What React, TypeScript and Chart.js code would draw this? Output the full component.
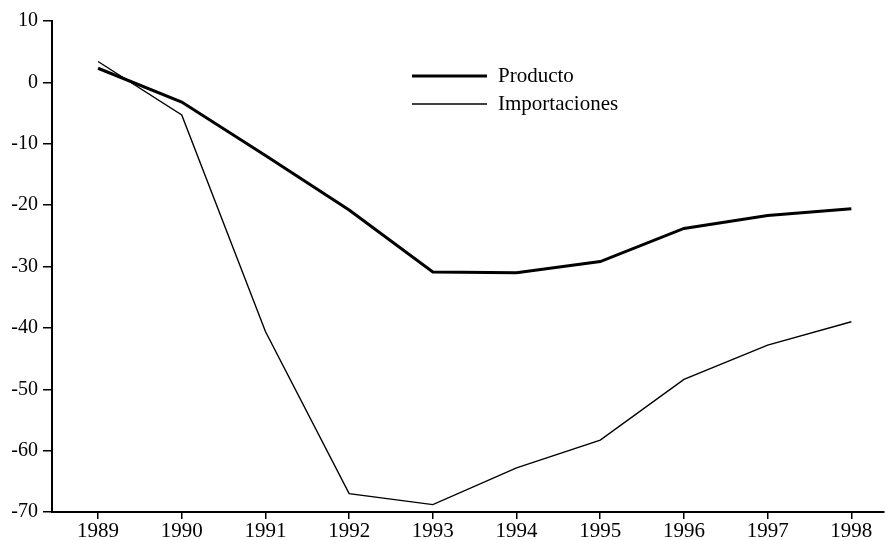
import React, { useEffect, useRef } from "react";
import { Chart, registerables } from "chart.js";

Chart.register(...registerables);

const years = [1989, 1990, 1991, 1992, 1993, 1994, 1995, 1996, 1997, 1998];
const producto = [2.3, -3.2, -11.9, -20.8, -30.9, -31.0, -29.2, -23.8, -21.7, -20.6];
const importaciones = [3.4, -5.3, -40.6, -67.0, -68.8, -62.8, -58.3, -48.4, -42.8, -39.0];
const seriesLabels = ["Producto", "Importaciones"];
const yTicks = [10, 0, -10, -20, -30, -40, -50, -60, -70];

const FONT = "'Liberation Serif', 'Times New Roman', serif";

const innerLegend = {
  id: "innerLegend",
  afterDraw(chart: any) {
    const ctx = chart.ctx;
    ctx.save();
    chart.data.datasets.forEach((ds: any, i: number) => {
      const y = 76 + i * 28;
      ctx.beginPath();
      ctx.strokeStyle = ds.borderColor;
      ctx.lineWidth = ds.borderWidth;
      ctx.moveTo(412, y);
      ctx.lineTo(487, y);
      ctx.stroke();
      ctx.fillStyle = "#000";
      ctx.font = `21px ${FONT}`;
      ctx.textBaseline = "middle";
      ctx.textAlign = "left";
      ctx.fillText(ds.label, 498, y);
    });
    ctx.restore();
  },
};

export default function App() {
  const ref = useRef<HTMLCanvasElement | null>(null);
  useEffect(() => {
    if (!ref.current) return;
    const chart = new Chart(ref.current, {
      type: "line",
      data: {
        datasets: [
          {
            label: seriesLabels[0],
            data: years.map((y, i) => ({ x: y, y: producto[i] })),
            borderColor: "#000",
            borderWidth: 3,
            pointRadius: 0,
            tension: 0,
            fill: false,
          },
          {
            label: seriesLabels[1],
            data: years.map((y, i) => ({ x: y, y: importaciones[i] })),
            borderColor: "#000",
            borderWidth: 1.4,
            pointRadius: 0,
            tension: 0,
            fill: false,
          },
        ],
      },
      options: {
        animation: false,
        responsive: false,
        maintainAspectRatio: false,
        layout: { padding: { top: 21, right: 2, left: 0, bottom: 0 } },
        plugins: { legend: { display: false }, tooltip: { enabled: false } },
        scales: {
          x: {
            type: "linear",
            min: 1988.45,
            max: 1998.39,
            afterBuildTicks: (scale: any) => {
              scale.ticks = years.map((v) => ({ value: v }));
            },
            afterFit: (scale: any) => {
              scale.height = 28;
            },
            border: { display: true, color: "#000", width: 2 },
            grid: { drawOnChartArea: false, color: "#000", tickLength: 7, lineWidth: 1.5 },
            ticks: {
              color: "#000",
              font: { family: FONT, size: 21 },
              padding: 0,
              maxRotation: 0,
              autoSkip: false,
              callback: (v: any) => String(v),
            },
          },
          y: {
            type: "linear",
            min: -70,
            max: 10,
            afterBuildTicks: (scale: any) => {
              scale.ticks = yTicks.map((v) => ({ value: v }));
            },
            afterFit: (scale: any) => {
              scale.width = 52;
            },
            border: { display: true, color: "#000", width: 2 },
            grid: { drawOnChartArea: false, color: "#000", tickLength: 9, lineWidth: 1.5 },
            ticks: {
              color: "#000",
              font: { family: FONT, size: 20 },
              padding: 5,
              callback: (v: any) => String(v),
            },
          },
        },
      },
      plugins: [innerLegend],
    });
    return () => chart.destroy();
  }, []);
  return (
    <div style={{ position: "fixed", left: 0, top: 0, width: 886, height: 540, background: "#fff" }}>
      <canvas ref={ref} width={886} height={540} style={{ display: "block" }} />
    </div>
  );
}
